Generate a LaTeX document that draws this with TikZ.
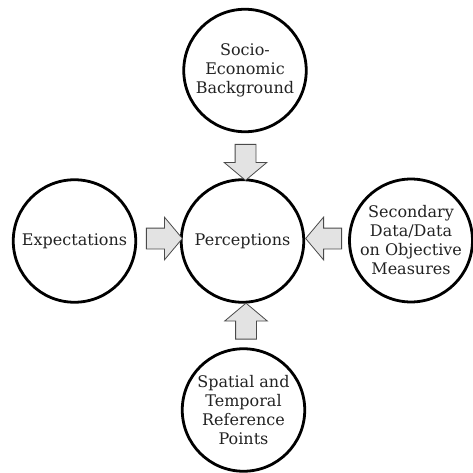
\documentclass[tikz,border=0pt]{standalone}
\usepackage{fontspec}
\setmainfont{DejaVu Serif}
\usetikzlibrary{shapes.arrows}
\definecolor{arrfill}{HTML}{E3E3E3}
\definecolor{arrdraw}{HTML}{4A4A4A}
\definecolor{txt}{HTML}{222222}
\tikzset{
  bubble/.style={circle, draw=black, line width=2.8pt, minimum size=122.5pt, inner sep=0pt,
    align=center, text=txt, font=\fontsize{16}{19}\selectfont},
  blockarrow/.style={single arrow, draw=arrdraw, fill=arrfill, line width=0.8pt,
    minimum height=36pt, inner xsep=0pt, inner ysep=10pt,
    single arrow head extend=11pt, single arrow tip angle=100, anchor=center}
}
\begin{document}
\begin{tikzpicture}[x=1pt,y=1pt]
\useasboundingbox (0,0) rectangle (473,472);
\node[bubble] (perc) at (242.5,231) {Perceptions};
\node[bubble] (socio) at (245,401.5) {Socio-\\Economic\\Background};
\node[bubble] (expect) at (74.5,231) {Expectations};
\node[bubble] (second) at (411,231.5) {Secondary\\Data/Data\\on Objective\\Measures};
\node[bubble] (spatial) at (243.5,62) {Spatial and\\Temporal\\Reference\\Points};
\node[blockarrow, rotate=-90] (a1) at (245.5,314) {};
\node[blockarrow] (a2) at (160,233.5) {};
\node[blockarrow, rotate=180] (a3) at (328,233.5) {};
\node[blockarrow, rotate=90] (a4) at (246,146.5) {};
\end{tikzpicture}
\end{document}
